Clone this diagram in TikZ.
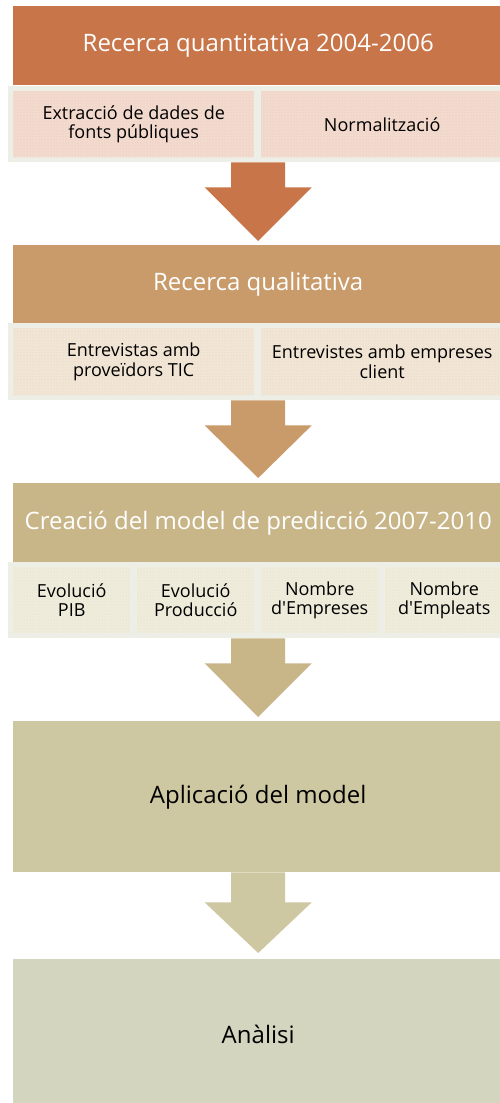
\documentclass[tikz,border=0pt]{standalone}
\usepackage{fontspec}
\setmainfont{Open Sans}
\usetikzlibrary{calc,patterns}
\definecolor{c1}{HTML}{C87549}
\definecolor{c2}{HTML}{C99B6A}
\definecolor{c3}{HTML}{C9B688}
\definecolor{c4}{HTML}{CEC8A2}
\definecolor{c5}{HTML}{D3D5BE}
\definecolor{s1}{HTML}{F3DACE}
\definecolor{s2}{HTML}{F1E5D5}
\definecolor{s3}{HTML}{EFECDC}
\definecolor{d1}{HTML}{E6C2B2}
\definecolor{d2}{HTML}{E6D3BA}
\definecolor{d3}{HTML}{E0DCC2}
\definecolor{frame}{HTML}{EDEEE6}
\tikzset{
  titlebox/.style={rectangle, inner sep=0, anchor=north west, minimum width=490, font=\fontsize{24}{28}\selectfont},
  framebox/.style={rectangle, inner sep=0, anchor=north west, fill=frame, minimum width=495, minimum height=76},
  cellbox/.style={rectangle, inner sep=0, anchor=north west, minimum height=66, align=center, font=\fontsize{18}{19.5}\selectfont, text=black},
  cellA/.style={cellbox, fill=s1, postaction={pattern=dots, pattern color=d1}},
  cellB/.style={cellbox, fill=s2, postaction={pattern=dots, pattern color=d2}},
  cellC/.style={cellbox, fill=s3, postaction={pattern=dots, pattern color=d3}},
}
\newcommand{\blockarrow}[5]{% color, top node, bottom node, stem length, tip gap
  \fill[#1] ($(#2.south -| #3.north)+(-27,0)$) -- ($(#2.south -| #3.north)+(27,0)$)
    -- ($(#2.south -| #3.north)+(27,#4)$) -- ($(#2.south -| #3.north)+(53.5,#4)$)
    -- ($(#3.north)+(0,-#5)$)
    -- ($(#2.south -| #3.north)+(-53.5,#4)$) -- ($(#2.south -| #3.north)+(-27,#4)$) -- cycle;}
\begin{document}
\begin{tikzpicture}[x=1pt,y=-1pt]
\useasboundingbox[fill=white] (0,0) rectangle (499,1103);
% Row 1
\node[titlebox, fill=c1, text=white, minimum height=79] (b1) at (13,6) {Recerca quantitativa 2004-2006};
\node[framebox] (f1) at (8,86) {};
\node[cellA, minimum width=241] (e1) at (13,91) {Extracció de dades de\\fonts públiques};
\node[cellA, minimum width=242] (n1) at (261,91) {Normalització};
% Row 2
\node[titlebox, fill=c2, text=white, minimum height=78] (b2) at (13,245) {Recerca qualitativa};
\node[framebox, minimum height=77] (f2) at (8,323) {};
\node[cellB, minimum width=241, minimum height=67] (e2) at (13,328) {Entrevistas amb\\proveïdors TIC};
\node[cellB, minimum width=242, minimum height=67] (n2) at (261,328) {Entrevistes amb empreses\\client};
% Row 3
\node[titlebox, fill=c3, text=white, minimum height=79] (b3) at (13,483) {Creació del model de predicció 2007-2010};
\node[framebox] (f3) at (8,562) {};
\node[cellC, minimum width=117] (p3) at (13,567) {Evolució\\PIB};
\node[cellC, minimum width=117] (q3) at (137,567) {Evolució\\Producció};
\node[cellC, minimum width=117] (r3) at (261,567) {Nombre\\d\textquotesingle Empreses};
\node[cellC, minimum width=118] (t3) at (385,567) {Nombre\\d\textquotesingle Empleats};
% Row 4
\node[titlebox, fill=c4, text=black, minimum height=151] (b4) at (13,721) {Aplicació del model};
% Row 5
\node[titlebox, fill=c5, text=black, minimum height=150] (b5) at (13,959) {Anàlisi};
% Arrows
\blockarrow{c1}{f1}{b2}{25}{4}
\blockarrow{c2}{f2}{b3}{25}{5}
\blockarrow{c3}{f3}{b4}{25}{4}
\blockarrow{c4}{b4}{b5}{30}{6}
\end{tikzpicture}
\end{document}
